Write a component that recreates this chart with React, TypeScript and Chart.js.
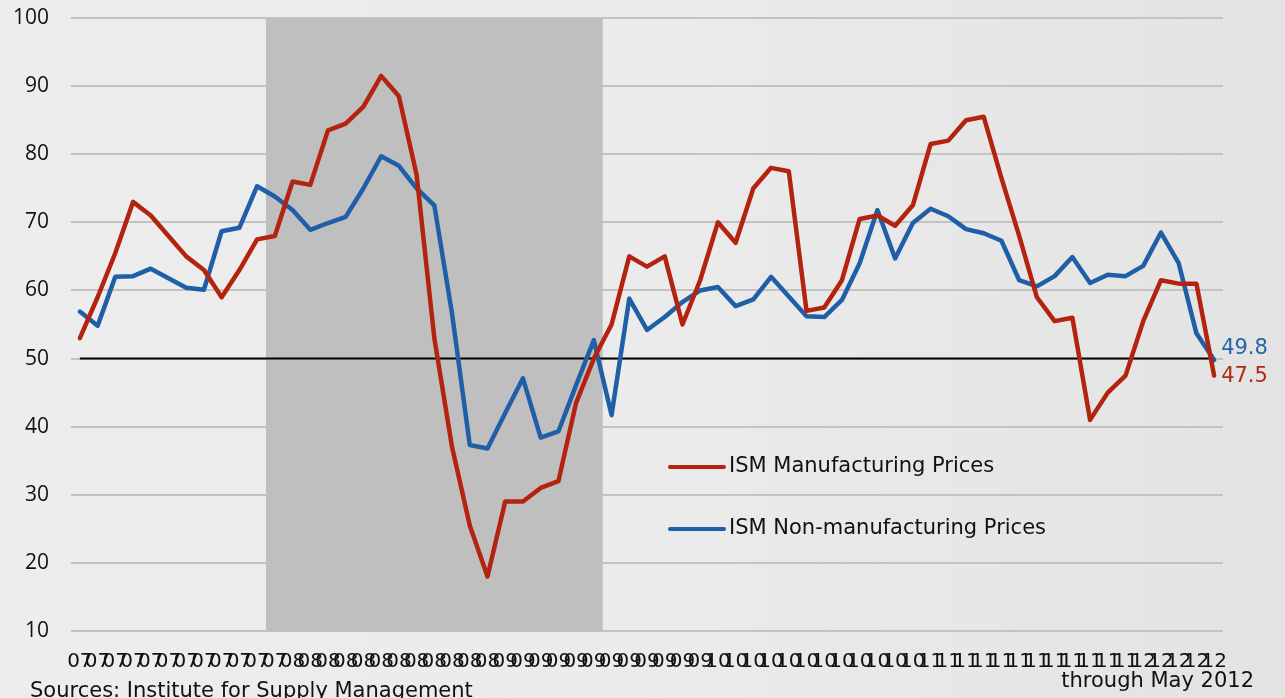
import React, { useEffect, useRef } from "react";
import { Chart, registerables } from "chart.js";

Chart.register(...registerables);

// Years shown on the axis and how many months of each are plotted (Jan 2007 - May 2012)
const yearLabels = ["07", "08", "09", "10", "11", "12"];
const monthsPerYear = [12, 12, 12, 12, 12, 5];
const categories: string[] = [];
yearLabels.forEach((y, i) => {
  for (let m = 0; m < monthsPerYear[i]; m++) categories.push(y);
});

const manufacturingPrices = [
  53, 59, 65.5, 73, 71, 68, 65, 63, 59, 63, 67.5, 68,
  76, 75.5, 83.5, 84.5, 87, 91.5, 88.5, 77, 53, 37, 25.5, 18,
  29, 29, 31, 32, 43.5, 50, 55, 65, 63.5, 65, 55, 61.5,
  70, 67, 75, 78, 77.5, 57, 57.5, 61.5, 70.5, 71, 69.5, 72.5,
  81.5, 82, 85, 85.5, 76.5, 68, 59, 55.5, 56, 41, 45, 47.5,
  55.5, 61.5, 61, 61, 47.5,
];

const nonManufacturingPrices = [
  56.9, 54.8, 62.0, 62.1, 63.2, 61.8, 60.4, 60.1, 68.7, 69.2, 75.3, 73.8,
  71.8, 68.9, 69.9, 70.8, 75.0, 79.7, 78.3, 75.0, 72.5, 56.6, 37.3, 36.8,
  42.0, 47.1, 38.4, 39.3, 46.1, 52.7, 41.7, 58.8, 54.2, 56.1, 58.3, 60.0,
  60.5, 57.7, 58.7, 62.0, 59.1, 56.2, 56.1, 58.6, 64.0, 71.8, 64.7, 69.9,
  72.0, 70.9, 69.0, 68.4, 67.3, 61.5, 60.6, 62.1, 64.9, 61.1, 62.3, 62.1,
  63.6, 68.5, 64.0, 53.7, 49.8,
];

const seriesNames = ["ISM Manufacturing Prices", "ISM Non-manufacturing Prices"];
const seriesColors = ["#b3230f", "#1f5fa7"];
const labelColors = ["#b02a12", "#2565aa"];

// Recession: Dec 2007 (index 11) through Jun 2009 (index 29)
const recessionStartIndex = 11;
const recessionEndIndex = 29;
const referenceLevel = 50;

const yTicks = { min: 10, max: 100, step: 10 };

const FONT = "'DejaVu Sans', sans-serif";

const overlayPlugin = {
  id: "overlay",
  beforeDatasetsDraw(chart: any) {
    const { ctx, chartArea, scales } = chart;
    const x = scales.x;
    const y = scales.y;
    const half = (x.getPixelForValue(1) - x.getPixelForValue(0)) / 2;
    const x0 = x.getPixelForValue(recessionStartIndex) - half;
    const x1 = x.getPixelForValue(recessionEndIndex) + half;
    ctx.save();
    ctx.fillStyle = "#bfbfbf";
    ctx.fillRect(x0, chartArea.top, x1 - x0, chartArea.bottom - chartArea.top);
    // reference line at 50
    const yy = y.getPixelForValue(referenceLevel);
    ctx.strokeStyle = "#000000";
    ctx.lineWidth = 2;
    ctx.beginPath();
    ctx.moveTo(x.getPixelForValue(0), yy);
    ctx.lineTo(x.getPixelForValue(categories.length - 1), yy);
    ctx.stroke();
    ctx.restore();
  },
  afterDatasetsDraw(chart: any) {
    const { ctx, scales } = chart;
    const x = scales.x;
    const y = scales.y;
    ctx.save();
    // legend
    const legendX = 670;
    const legendYs = [467, 529];
    chart.data.datasets.forEach((ds: any, i: number) => {
      ctx.strokeStyle = ds.borderColor;
      ctx.lineWidth = 4;
      ctx.lineCap = "round";
      ctx.beginPath();
      ctx.moveTo(legendX, legendYs[i]);
      ctx.lineTo(legendX + 54, legendYs[i]);
      ctx.stroke();
      ctx.fillStyle = "#111111";
      ctx.font = `21px ${FONT}`;
      ctx.textAlign = "left";
      ctx.textBaseline = "middle";
      ctx.fillText(ds.label, legendX + 59, legendYs[i]);
    });
    // end value labels
    const last = categories.length - 1;
    const lx = x.getPixelForValue(last) + 7;
    const offsets = [1, -11];
    ctx.font = `21px 'DejaVu Sans', sans-serif`;
    ctx.textAlign = "left";
    ctx.textBaseline = "middle";
    chart.data.datasets.forEach((ds: any, i: number) => {
      const v = ds.data[last];
      ctx.fillStyle = labelColors[i];
      ctx.fillText(v.toFixed(1), lx, y.getPixelForValue(v) + offsets[i]);
    });
    // notes
    ctx.fillStyle = "#111111";
    ctx.font = `21px ${FONT}`;
    ctx.textBaseline = "middle";
    ctx.textAlign = "right";
    ctx.fillText("through May 2012", 1254, 682);
    ctx.textAlign = "left";
    ctx.textBaseline = "alphabetic";
    ctx.fillText("Sources: Institute for Supply Management", 30, 697);
    ctx.restore();
  },
};

export default function App() {
  const canvasRef = useRef<HTMLCanvasElement | null>(null);

  useEffect(() => {
    const canvas = canvasRef.current;
    if (!canvas) return;
    const chart = new Chart(canvas, {
      type: "line",
      data: {
        labels: categories,
        datasets: [
          {
            label: seriesNames[0],
            data: manufacturingPrices,
            borderColor: seriesColors[0],
            backgroundColor: seriesColors[0],
            borderWidth: 4.5,
            pointRadius: 0,
            tension: 0,
            borderJoinStyle: "round",
            borderCapStyle: "round",
          },
          {
            label: seriesNames[1],
            data: nonManufacturingPrices,
            borderColor: seriesColors[1],
            backgroundColor: seriesColors[1],
            borderWidth: 4.5,
            pointRadius: 0,
            tension: 0,
            borderJoinStyle: "round",
            borderCapStyle: "round",
          },
        ],
      },
      options: {
        animation: false,
        responsive: false,
        maintainAspectRatio: false,
        layout: { padding: { top: 18, right: 62, bottom: 0, left: 0 } },
        plugins: {
          legend: { display: false },
          tooltip: { enabled: false },
        },
        scales: {
          x: {
            type: "category",
            offset: true,
            grid: { display: false, drawTicks: false },
            border: { display: false },
            ticks: {
              autoSkip: false,
              maxRotation: 0,
              minRotation: 0,
              padding: 19,
              color: "#111111",
              font: { family: FONT, size: 20 },
            },
            afterFit(scale: any) {
              scale.height = 67;
              scale.paddingLeft = 0;
              scale.paddingRight = 0;
            },
          },
          y: {
            min: yTicks.min,
            max: yTicks.max,
            ticks: {
              stepSize: yTicks.step,
              padding: 22,
              color: "#111111",
              font: { family: "'Open Sans', sans-serif", size: 21 },
            },
            grid: { color: "#c3c3c3", lineWidth: 2, drawTicks: false },
            border: { display: false },
            afterFit(scale: any) {
              scale.width = 71;
              scale.paddingTop = 0;
              scale.paddingBottom = 0;
            },
          },
        },
      },
      plugins: [overlayPlugin],
    });
    return () => chart.destroy();
  }, []);

  return (
    <div
      style={{
        position: "fixed",
        left: 0,
        top: 0,
        width: 1285,
        height: 698,
        background: "linear-gradient(90deg, #ededed 0%, #ebebeb 50%, #e3e3e3 100%)",
        overflow: "hidden",
      }}
    >
      <canvas ref={canvasRef} width={1285} height={698} style={{ display: "block" }} />
    </div>
  );
}
